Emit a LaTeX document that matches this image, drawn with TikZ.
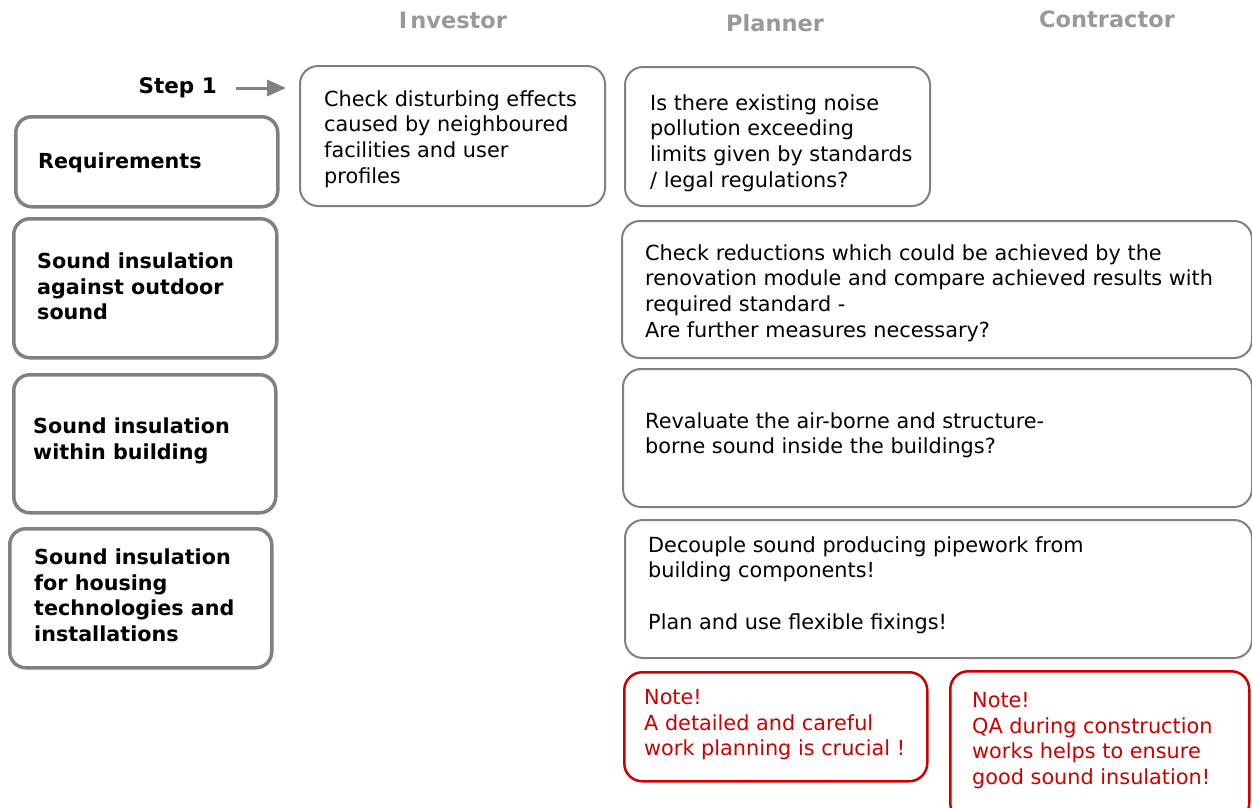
\documentclass[tikz,border=0pt]{standalone}
\usepackage{fontspec}
\setmainfont{DejaVu Sans}
\newfontfamily\boldf{DejaVu Sans}[BoldFont={DejaVu Sans Bold}]
\usetikzlibrary{arrows.meta}
\definecolor{bgray}{HTML}{808080}
\definecolor{hgray}{HTML}{999999}
\definecolor{nred}{HTML}{CC0000}
\tikzset{
  x=1pt,y=-1pt,
  lbox/.style={draw=bgray,line width=3.5pt,rounded corners=16pt,anchor=north west,inner sep=0pt,fill=white},
  rbox/.style={draw=bgray,line width=2pt,rounded corners=18pt,anchor=north west,inner sep=0pt,fill=white},
  nbox/.style={draw=nred,line width=2.5pt,rounded corners=18pt,anchor=north west,inner sep=0pt,fill=white},
  txt/.style={anchor=north west,inner sep=0pt,align=left,font=\fontsize{20.8}{25.7}\selectfont},
  btxt/.style={anchor=north west,inner sep=0pt,align=left,font=\boldf\bfseries\fontsize{20.7}{25.5}\selectfont},
  rtxt/.style={txt,text=nred},
  hdr/.style={anchor=center,inner sep=0pt,text=hgray,font=\boldf\bfseries\fontsize{22.5}{26}\selectfont},
}
\begin{document}
\begin{tikzpicture}
\useasboundingbox (0,0) rectangle (1252,807);
% headers
\node[hdr] (hinv) at (453,20) {I\kern3pt nvestor};
\node[hdr] (hpla) at (775,23) {Planner};
\node[hdr] (hcon) at (1107,19) {Contractor};
% left boxes
\node[lbox,minimum width=262pt,minimum height=90pt] (req) at (14,115) {};
\node[lbox,minimum width=263pt,minimum height=139pt] (out) at (12,217) {};
\node[lbox,minimum width=262pt,minimum height=138pt] (wit) at (12,373) {};
\node[lbox,minimum width=262pt,minimum height=139pt] (hou) at (8,527) {};
\node[btxt] (treq) at (38,153) {Requirements};
\node[btxt] (tout) at (37,253) {Sound insulation\\against outdoor\\sound};
\node[btxt] (twit) at (33,418) {Sound insulation\\within building};
\node[btxt] (thou) at (34,549) {Sound insulation\\for housing\\technologies and\\installations};
% step 1
\node[anchor=east,inner sep=0pt,font=\boldf\bfseries\fontsize{21.5}{24}\selectfont] (step) at (217,88) {Step 1};
\coordinate (stepend) at (286,88);
% right boxes
\node[rbox,minimum width=305pt,minimum height=140pt] (inv) at (299,65) {};
\node[rbox,minimum width=305pt,minimum height=139pt] (pl1) at (624,66) {};
\node[rbox,minimum width=630pt,minimum height=137pt] (red) at (621,220) {};
\node[rbox,minimum width=629pt,minimum height=138pt] (rev) at (622,368) {};
\node[rbox,minimum width=627pt,minimum height=138pt] (dec) at (624,519) {};
\node[nbox,minimum width=303pt,minimum height=109pt] (n1) at (623,671) {};
\node[nbox,minimum width=299pt,minimum height=150pt] (n2) at (949,670) {};
\draw[bgray,line width=3pt,-{Triangle[length=19pt,width=16pt]}] ([xshift=19pt]step.east) -- (step.east -| stepend);
% texts
\node[txt] (tinv) at (324,90) {Check disturbing effects\\caused by neighboured\\facilities and user\\profiles};
\node[txt] (tpl1) at (650,94) {Is there existing noise\\pollution exceeding\\limits given by standards\\/ legal regulations?};
\node[txt] (tred) at (645,244) {Check reductions which could be achieved by the\\renovation module and compare achieved results with\\required standard -\\Are further measures necessary?};
\node[txt] (trev) at (645,412) {Revaluate the air-borne and structure-\\borne sound inside the buildings?};
\node[txt] (tdec) at (648,536) {Decouple sound producing pipework from\\building components!\\[25.7pt]Plan and use flexible fixings!};
\node[rtxt] (tn1) at (644,689) {Note!\\A detailed and careful\\work planning is crucial !};
\node[rtxt] (tn2) at (972,692) {Note!\\QA during construction\\works helps to ensure\\good sound insulation!};
\end{tikzpicture}
\end{document}
